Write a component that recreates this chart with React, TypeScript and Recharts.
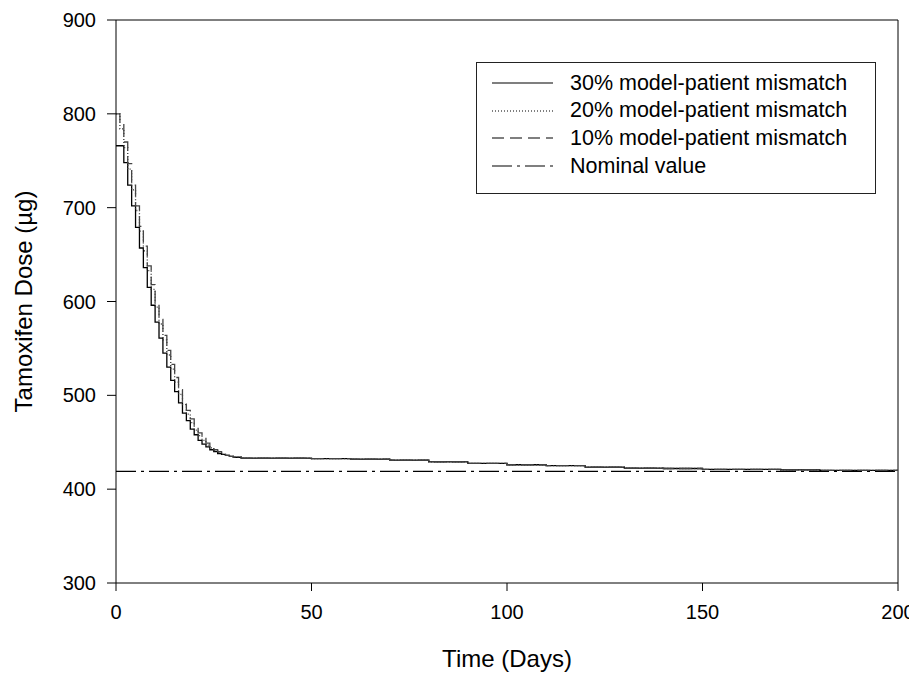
import { LineChart, Line, XAxis, YAxis, ReferenceLine } from "recharts";

// day grid: daily steps over the fast decay, sparser in the slow tail
const days = [
  0, 1, 2, 3, 4, 5, 6, 7, 8, 9, 10, 11, 12, 13, 14, 15, 16, 17, 18, 19, 20,
  21, 22, 23, 24, 25, 26, 27, 28, 29, 30, 31, 32, 33, 34, 35,
  40, 50, 60, 70, 80, 90, 100, 110, 120, 130, 140, 150, 160, 170, 180, 190, 200,
];

const mismatch30 = [
  766, 766, 748, 724, 702, 679, 657, 636, 615, 596, 578, 561, 545, 530, 516, 504, 492, 481, 473, 464, 458,
  452, 448, 445, 442, 440, 438, 437, 436, 435, 434, 434, 433, 433, 433, 433,
  433, 432.5, 432, 431, 429, 427.5, 426, 425, 423.5, 422.5, 422, 421, 421, 420.5, 420, 420, 419.5,
];

const mismatch20 = [
  800, 784, 764, 741, 719, 697, 675, 654, 633, 613, 594, 576, 559, 543, 528, 514, 501, 490, 480, 471, 463,
  457, 452, 447, 444, 441, 439, 437, 436, 435, 434, 434, 433, 433, 433, 433,
  433, 432.5, 432, 431, 429, 427.5, 426, 425, 423.5, 422.5, 422, 421, 421, 420.5, 420, 420, 419.5,
];

const mismatch10 = [
  800, 790, 770, 747, 724, 702, 680, 659, 638, 618, 599, 581, 564, 548, 533, 519, 506, 494, 484, 475, 467,
  460, 454, 449, 445, 442, 440, 438, 436, 435, 434, 434, 433, 433, 433, 433,
  433, 432.5, 432, 431, 429, 427.5, 426, 425, 423.5, 422.5, 422, 421, 421, 420.5, 420, 420, 419.5,
];

const nominalValue = 419;

const xTicks = [0, 50, 100, 150, 200];
const yTicks = [300, 400, 500, 600, 700, 800, 900];

const series = [
  { key: "m30", name: "30% model-patient mismatch", dash: undefined, color: "#000" },
  { key: "m20", name: "20% model-patient mismatch", dash: "1 2", color: "#333" },
  { key: "m10", name: "10% model-patient mismatch", dash: "12 6", color: "#444" },
];

const data = days.map((d, i) => ({
  day: d,
  m30: mismatch30[i],
  m20: mismatch20[i],
  m10: mismatch10[i],
}));

const font = "'Liberation Sans', Arial, sans-serif";

const legendRows = [
  ...series.map((s) => ({ name: s.name, dash: s.dash })),
  { name: "Nominal value", dash: "20 5 3 5" },
];

function ChartLegend() {
  return (
    <div
      style={{
        position: "absolute",
        left: 468,
        top: 54,
        width: 398,
        height: 130,
        border: "1px solid #222",
        background: "#fff",
        fontFamily: font,
        fontSize: 21.5,
        color: "#000",
      }}
    >
      {legendRows.map((r, i) => (
        <div
          key={r.name}
          style={{ position: "absolute", left: 0, top: 6 + i * 27.7, height: 28, display: "flex", alignItems: "center" }}
        >
          <svg width={90} height={28}>
            <line x1={15} x2={76} y1={14} y2={14} stroke="#000" strokeWidth={1.2} strokeDasharray={r.dash} />
          </svg>
          <span style={{ marginLeft: 3, whiteSpace: "nowrap" }}>{r.name}</span>
        </div>
      ))}
    </div>
  );
}

export default function App() {
  return (
    <div style={{ width: 909, height: 667, position: "relative" }}>
      <LineChart
        width={909}
        height={667}
        data={data}
        margin={{ top: 12, right: 19, left: 0, bottom: 0 }}
        style={{ fontFamily: font }}
      >
        <XAxis
          dataKey="day"
          type="number"
          domain={[0, 200]}
          ticks={xTicks}
          allowDataOverflow
          height={92}
          stroke="#000"
          tickSize={8}
          tickMargin={14}
          tick={{ fontSize: 20, fill: "#000" }}
          label={{ value: "Time (Days)", position: "insideBottom", offset: 8, fontSize: 24, fill: "#000" }}
        />
        <YAxis
          type="number"
          domain={[300, 900]}
          ticks={yTicks}
          allowDataOverflow
          width={108}
          stroke="#000"
          tickSize={9}
          tickMargin={11}
          tick={{ fontSize: 20, fill: "#000" }}
          label={{
            value: "Tamoxifen Dose (\u00b5g)",
            angle: -90,
            position: "insideLeft",
            offset: 15,
            fontSize: 24,
            fill: "#000",
            style: { textAnchor: "middle" },
          }}
        />
        {/* frame: top and right edges of the plot box */}
        <ReferenceLine y={900} stroke="#000" strokeWidth={1} />
        <ReferenceLine x={200} stroke="#000" strokeWidth={1} />
        <ReferenceLine y={nominalValue} stroke="#000" strokeWidth={1.1} strokeDasharray="20 5 3 5" />
        {series.map((s) => (
          <Line
            key={s.key}
            dataKey={s.key}
            name={s.name}
            type="stepAfter"
            stroke={s.color}
            strokeWidth={1.3}
            strokeDasharray={s.dash}
            dot={false}
            activeDot={false}
            isAnimationActive={false}
          />
        ))}
      </LineChart>
      <ChartLegend />
    </div>
  );
}
